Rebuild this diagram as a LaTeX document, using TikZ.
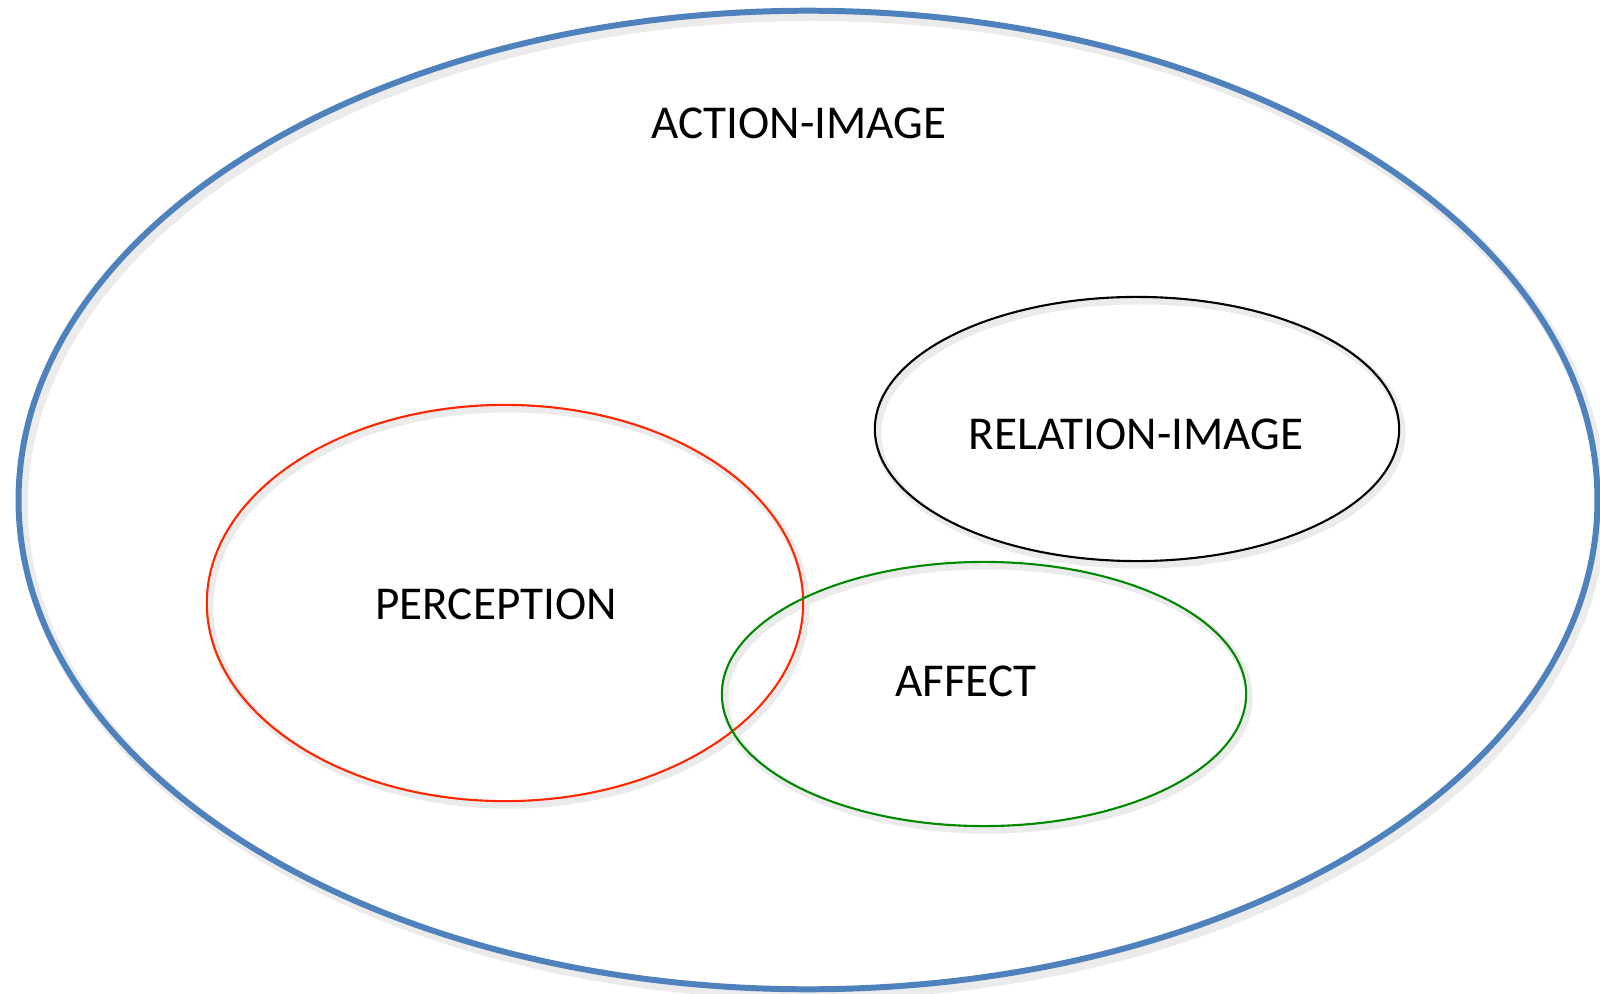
\documentclass[tikz,border=0pt]{standalone}
\usepackage{fontspec}
\setmainfont{Carlito}
\usepackage{tikz}
\usetikzlibrary{shapes.geometric,positioning}
\usepackage{xcolor}
\definecolor{aiblue}{RGB}{79,129,189}
\definecolor{pcred}{RGB}{255,38,0}
\definecolor{afgreen}{RGB}{0,136,0}
\tikzstyle{region} = [ellipse, inner sep=0pt, fill=none]
\tikzstyle{ghost} = [ellipse, inner sep=0pt, draw=black!8, line width=3pt]
\tikzstyle{label} = [font=\fontsize{13.4}{16}\selectfont, anchor=base, inner sep=0pt]

\begin{document}
\begin{tikzpicture}[x=0.01cm, y=-0.01cm]
\useasboundingbox (0,0) rectangle (1600,994);
% soft shadows
\node[ghost, minimum width=15.78cm, minimum height=9.78cm] at (812,505) {};
\node[ghost, minimum width=5.96cm, minimum height=3.96cm, line width=2pt] at (508,607) {};
\node[ghost, minimum width=5.24cm, minimum height=2.64cm, line width=2pt] at (987,698) {};
\node[ghost, minimum width=5.24cm, minimum height=2.64cm, line width=2pt] at (1140,433) {};

% Regions
\node (action) [region, draw=aiblue, line width=1.7pt, minimum width=15.78cm, minimum height=9.78cm] at (808,500) {};
\node (relation) [region, draw=black, line width=0.6pt, minimum width=5.24cm, minimum height=2.64cm] at (1137,429) {};
\node (perception) [region, draw=pcred, line width=0.6pt, minimum width=5.96cm, minimum height=3.96cm] at (505,603) {};
\node (affect) [region, draw=afgreen, line width=0.6pt, minimum width=5.24cm, minimum height=2.64cm] at (984,694) {};

% Labels
\node (actiontxt) [label] at (799,139) {ACTION-IMAGE};
\node (relationtxt) [label] at (1136,449) {RELATION-IMAGE};
\node (perceptiontxt) [label] at (496,619) {PERCEPTION};
\node (affecttxt) [label] at (966,696) {AFFECT};
\end{tikzpicture}
\end{document}
